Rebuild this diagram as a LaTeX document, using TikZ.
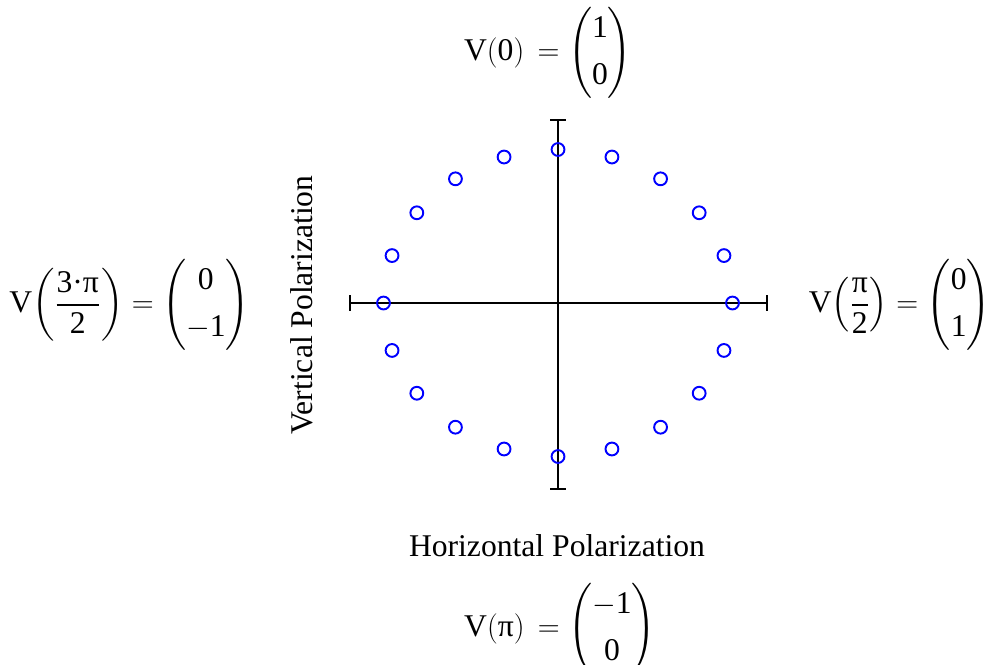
\documentclass[tikz,border=0pt]{standalone}
\usepackage{amsmath}
\usepackage{fontspec}
\setmainfont{Liberation Serif}
\usetikzlibrary{positioning}
\tikzset{
  axis/.style={line width=1.1pt},
  pt/.style={circle, draw=blue, line width=1.1pt, inner sep=0pt, minimum size=7.3pt},
  eqn/.style={inner sep=0pt},
}
\newcommand{\vecm}[2]{{\left(\setlength{\arraycolsep}{0pt}\begin{array}{c}#1\\[5pt]#2\end{array}\right)}}

\begin{document}
\begin{tikzpicture}[x=0.02cm,y=-0.02cm,font=\fontsize{18}{22}\selectfont]
  \useasboundingbox (0,0) rectangle (993,664);
  % axes
  \coordinate (o) at (558,303);
  \coordinate (l) at (350,303);
  \coordinate (r) at (767,303);
  \coordinate (t) at (558,120);
  \coordinate (b) at (558,489);
  \draw[axis] (l) -- (r);
  \draw[axis] (t) -- (b);
  \draw[axis] (l) ++(0,-8) -- ++(0,16);
  \draw[axis] (r) ++(0,-8) -- ++(0,16);
  \draw[axis] (t) ++(-8,0) -- ++(16,0);
  \draw[axis] (b) ++(-8,0) -- ++(16,0);
  % polarization points
  \foreach \k in {0,...,19}
    \node[pt] (p\k) at ({558+174.5*sin(18*\k)},{303-153.5*cos(18*\k)}) {};
  % axis labels
  \node (hlab) at (557,546) {Horizontal Polarization};
  \node[rotate=90] (vlab) at (302,305) {Vertical Polarization};
  % state vectors
  \node[eqn] (v0) at (548,53) {$\mathrm{V}(\mathrm{0})\,=\vecm{\mathrm{1}}{\mathrm{0}}$};
  \node[eqn, anchor=west] (v3) at (9,305) {$\mathrm{V}{\left(\dfrac{\mbox{3·π}}{\mathrm{2}}\right)}=\vecm{\mathrm{0}}{-\mathrm{1}}$};
  \node[eqn, anchor=east] (v1) at (991,305) {$\mathrm{V}{\left(\dfrac{\mbox{π}}{\mathrm{2}}\right)}=\vecm{\mathrm{0}}{\mathrm{1}}$};
  \node[eqn] (v2) at (560,629) {$\mathrm{V}(\mbox{π})\,=\vecm{-\mathrm{1}}{\mathrm{0}}$};
\end{tikzpicture}
\end{document}
